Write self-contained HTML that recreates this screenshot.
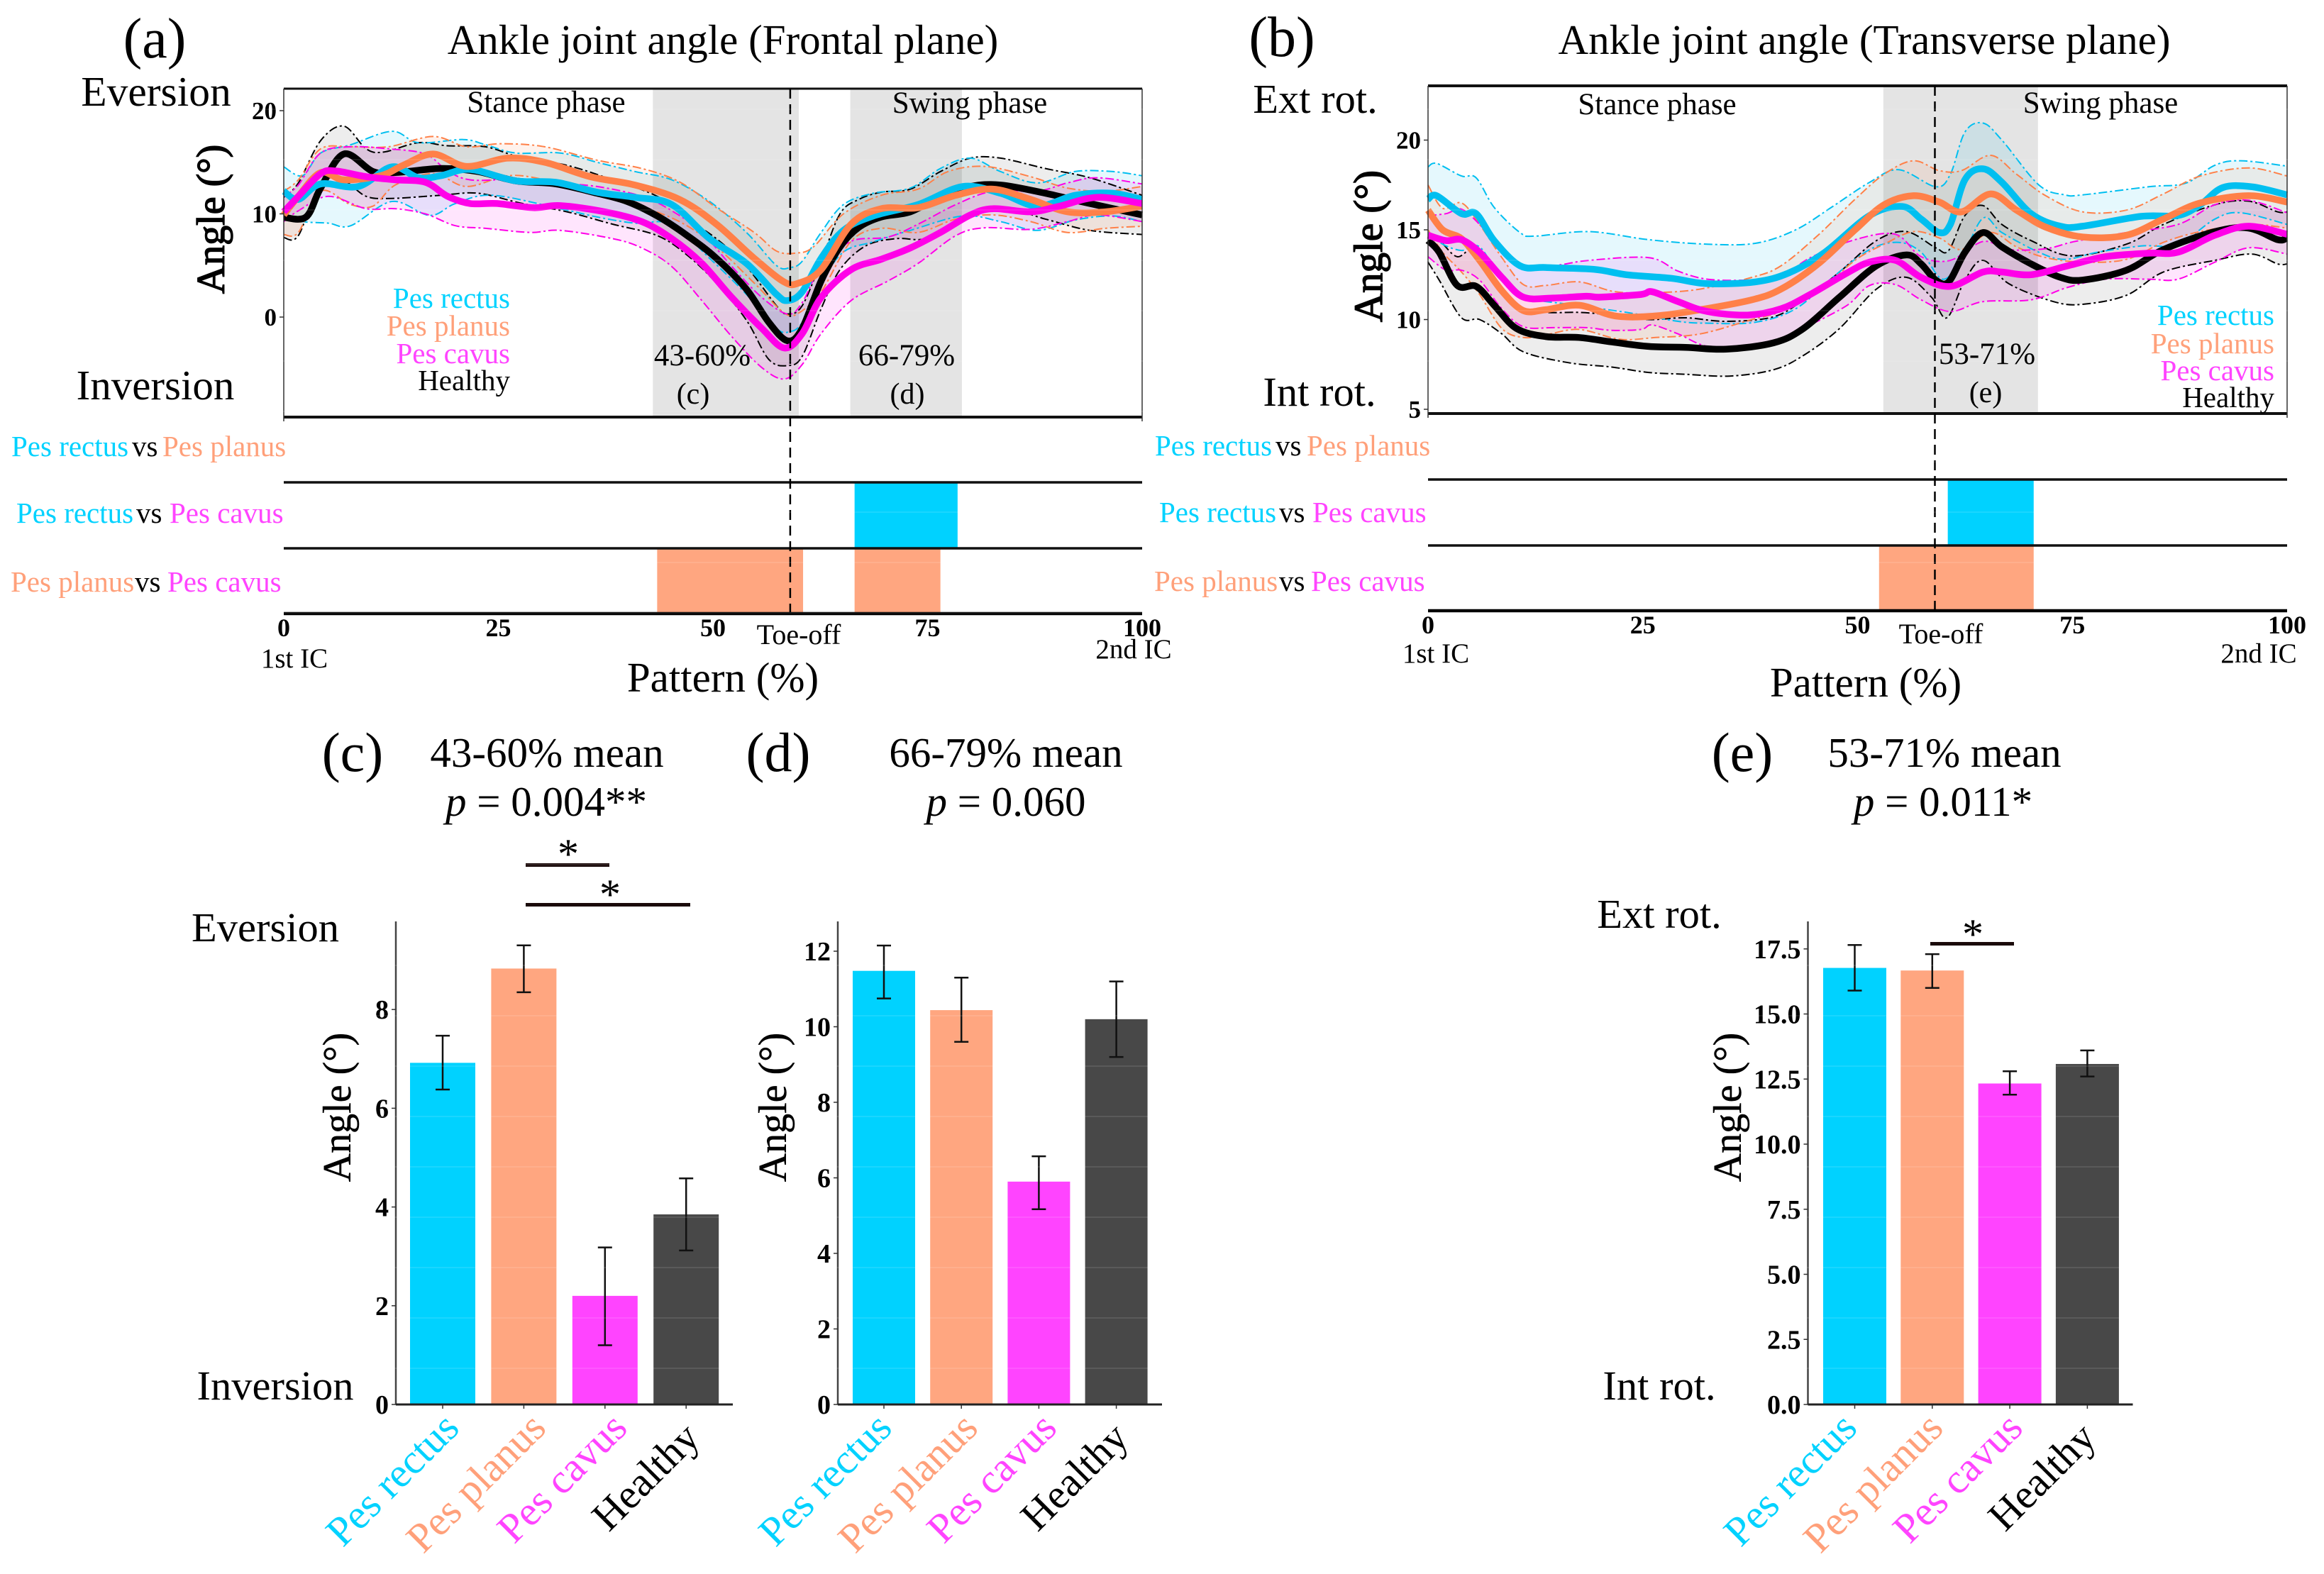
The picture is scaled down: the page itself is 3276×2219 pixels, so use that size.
<!DOCTYPE html>
<html lang="en">
<head>
<meta charset="utf-8">
<title>Ankle joint angle</title>
<style>
html,body{margin:0;padding:0;background:#fff}
svg{display:block}
text{font-family:"Liberation Serif",serif;fill:#000}
.b{font-weight:bold}
.r{fill:#00d2ff}.p{fill:#ffa07a}.c{fill:#ff44ff}
</style>
</head>
<body>
<svg id="fig" xmlns="http://www.w3.org/2000/svg" width="3276" height="2219" viewBox="0 0 3276 2219">
<rect width="3276" height="2219" fill="#fff"/>
<g id="layer"></g>

<!-- panel a text -->
<text x="218" y="81" font-size="80" text-anchor="middle">(a)</text>
<text x="1019" y="76" font-size="59" text-anchor="middle">Ankle joint angle (Frontal plane)</text>
<text x="220" y="149" font-size="59.5" text-anchor="middle">Eversion</text>
<text x="219" y="563" font-size="59" text-anchor="middle">Inversion</text>
<text transform="translate(316,309) rotate(-90)" font-size="56" text-anchor="middle" stroke="#000" stroke-width="1.4">Angle (°)</text>
<text x="770" y="158" font-size="43" text-anchor="middle">Stance phase</text>
<text x="1367" y="159" font-size="43" text-anchor="middle">Swing phase</text>
<text class="r" x="719" y="434" font-size="41" text-anchor="end">Pes rectus</text>
<text class="p" x="719" y="473" font-size="41" text-anchor="end">Pes planus</text>
<text class="c" x="719" y="512" font-size="41" text-anchor="end">Pes cavus</text>
<text x="719" y="550" font-size="41" text-anchor="end">Healthy</text>
<text x="990" y="515" font-size="43" text-anchor="middle">43-60%</text>
<text x="977" y="569" font-size="42" text-anchor="middle">(c)</text>
<text x="1278" y="515" font-size="43" text-anchor="middle">66-79%</text>
<text x="1279" y="569" font-size="42" text-anchor="middle">(d)</text>

<text x="16" y="643" font-size="41"><tspan class="r">Pes rectus</tspan><tspan x="186">vs</tspan><tspan class="p" x="229">Pes planus</tspan></text>
<text x="23" y="737" font-size="41"><tspan class="r">Pes rectus</tspan><tspan x="192">vs</tspan><tspan class="c" x="239">Pes cavus</tspan></text>
<text x="15" y="834" font-size="41"><tspan class="p">Pes planus</tspan><tspan x="190">vs</tspan><tspan class="c" x="236">Pes cavus</tspan></text>
<text x="1126" y="908" font-size="40" text-anchor="middle">Toe-off</text>
<text x="415" y="941" font-size="39" text-anchor="middle">1st IC</text>
<text x="1598" y="928" font-size="39" text-anchor="middle">2nd IC</text>
<text x="1019" y="975" font-size="59" text-anchor="middle">Pattern (%)</text>

<!-- panel b text -->
<text x="1807" y="79" font-size="80" text-anchor="middle">(b)</text>
<text x="2628" y="76" font-size="59" text-anchor="middle">Ankle joint angle (Transverse plane)</text>
<text x="1854" y="159" font-size="58.5" text-anchor="middle">Ext rot.</text>
<text x="1860" y="572" font-size="58.5" text-anchor="middle">Int rot.</text>
<text transform="translate(1948,347) rotate(-90)" font-size="57" text-anchor="middle" stroke="#000" stroke-width="1.4">Angle (°)</text>
<text x="2336" y="161" font-size="43" text-anchor="middle">Stance phase</text>
<text x="2961" y="159" font-size="43" text-anchor="middle">Swing phase</text>
<text class="r" x="3206" y="458" font-size="41" text-anchor="end">Pes rectus</text>
<text class="p" x="3206" y="498" font-size="41" text-anchor="end">Pes planus</text>
<text class="c" x="3206" y="536" font-size="41" text-anchor="end">Pes cavus</text>
<text x="3206" y="574" font-size="41" text-anchor="end">Healthy</text>
<text x="2801" y="513" font-size="43" text-anchor="middle">53-71%</text>
<text x="2799" y="567" font-size="42" text-anchor="middle">(e)</text>

<text x="1628" y="642" font-size="41"><tspan class="r">Pes rectus</tspan><tspan x="1798">vs</tspan><tspan class="p" x="1842">Pes planus</tspan></text>
<text x="1634" y="736" font-size="41"><tspan class="r">Pes rectus</tspan><tspan x="1803">vs</tspan><tspan class="c" x="1850">Pes cavus</tspan></text>
<text x="1627" y="833" font-size="41"><tspan class="p">Pes planus</tspan><tspan x="1803">vs</tspan><tspan class="c" x="1848">Pes cavus</tspan></text>
<text x="2736" y="907" font-size="40" text-anchor="middle">Toe-off</text>
<text x="2024" y="934" font-size="39" text-anchor="middle">1st IC</text>
<text x="3184" y="934" font-size="39" text-anchor="middle">2nd IC</text>
<text x="2630" y="982" font-size="59" text-anchor="middle">Pattern (%)</text>

<!-- panel c text -->
<text x="497" y="1087" font-size="78" text-anchor="middle">(c)</text>
<text x="771" y="1081" font-size="59" text-anchor="middle">43-60% mean</text>
<text x="770" y="1150" font-size="59" text-anchor="middle"><tspan font-style="italic">p</tspan> = 0.004**</text>
<text x="801" y="1224" font-size="60" text-anchor="middle">*</text>
<text x="860" y="1281" font-size="60" text-anchor="middle">*</text>
<text x="374" y="1327" font-size="58.5" text-anchor="middle">Eversion</text>
<text x="388" y="1973" font-size="58.5" text-anchor="middle">Inversion</text>
<text transform="translate(494,1561) rotate(-90)" font-size="56" text-anchor="middle" stroke="#000" stroke-width="0.5">Angle (°)</text>

<!-- panel d text -->
<text x="1097" y="1087" font-size="78" text-anchor="middle">(d)</text>
<text x="1418" y="1081" font-size="59" text-anchor="middle">66-79% mean</text>
<text x="1418" y="1150" font-size="59" text-anchor="middle"><tspan font-style="italic">p</tspan> = 0.060</text>
<text transform="translate(1108,1561) rotate(-90)" font-size="56" text-anchor="middle" stroke="#000" stroke-width="0.5">Angle (°)</text>

<!-- panel e text -->
<text x="2456" y="1087" font-size="78" text-anchor="middle">(e)</text>
<text x="2741" y="1081" font-size="59" text-anchor="middle">53-71% mean</text>
<text x="2739" y="1150" font-size="59" text-anchor="middle"><tspan font-style="italic">p</tspan> = 0.011*</text>
<text x="2781" y="1337" font-size="60" text-anchor="middle">*</text>
<text x="2339" y="1308" font-size="58.5" text-anchor="middle">Ext rot.</text>
<text x="2339" y="1973" font-size="58.5" text-anchor="middle">Int rot.</text>
<text transform="translate(2454,1561) rotate(-90)" font-size="56" text-anchor="middle" stroke="#000" stroke-width="0.5">Angle (°)</text>
</svg>

<script>
/* ---------- data: curves, [gait cycle %, angle °] ---------- */
const aRectusMean=[[0,12.2],[1.7,11.4],[4.3,12.9],[8.7,12.65],[12.6,14.56],[15.7,13.5],[18.3,13.7],[21.7,14.3],[27,13.2],[31.7,13.06],[36.5,12.1],[40.9,11.6],[45.2,10.9],[49.6,7.6],[53.9,5.2],[57.4,2.2],[58.7,1.6],[60.4,2.45],[62.6,5.7],[65.2,8.4],[68.7,9.8],[73.9,10.9],[79.1,12.65],[83.5,12],[87.8,10.75],[92.2,11.8],[96.5,12],[100,11.4]];
const aRectusUpper=[[0,14.56],[2.2,13.7],[4.3,15.9],[7.8,16.7],[12.6,18],[15.7,16.9],[20.9,17.2],[23.5,16.7],[27,15.9],[32.2,15.9],[36.5,15],[40.9,14.1],[45.2,13.3],[49.6,11.2],[53.9,8.2],[57.4,5],[59,4.8],[60.4,5.4],[62.6,8.2],[65.2,10.9],[68.7,12],[73,12.5],[76.5,14.4],[80,15.4],[83.5,14.1],[87.8,13],[92.2,14.1],[96.5,14.1],[100,13.7]];
const aRectusLower=[[0,9.8],[2.2,9.25],[5.2,9.1],[7.8,8.85],[12.6,11.2],[17,9.85],[20,11],[24.3,11.8],[32.2,10.5],[36.5,9.7],[40.9,9.1],[45.2,9],[49.6,5.7],[53.9,2.2],[57.4,-1.1],[59,-1.4],[60.4,-0.5],[62.6,3.3],[65.2,6.3],[68.7,7.3],[73,8.4],[79.1,9.8],[83.5,9.25],[87.8,8.4],[92.2,9.4],[96.5,9.8],[100,9.25]];
const aPlanusMean=[[0,9.9],[1.7,11.7],[4.3,14],[7,13.3],[11.3,13.7],[13.9,14.7],[17.4,15.8],[21.3,14.6],[26.1,15.4],[30.4,15],[35.7,13.6],[40.9,12.8],[46.1,11.4],[50.4,9],[54.8,5.7],[58.3,3.4],[60,3.3],[62.6,4.6],[66.1,9],[69.6,10.5],[73.9,10.6],[78.3,11.8],[82.6,12.4],[87,11.4],[91.3,10.2],[95.7,10.2],[100,10.75]];
const aPlanusUpper=[[0,12.2],[1.7,13.3],[4.3,16.3],[7.8,16.5],[12.2,16.5],[17.4,17.5],[21.3,16.5],[25.2,16.8],[30.4,16.5],[36.5,15.2],[41.7,14.4],[46.1,13.1],[50.4,10.6],[54.8,8.2],[57.4,6.4],[59.6,6.2],[61.7,6.8],[65.2,10],[69.6,11.8],[73.9,12.4],[77.4,14.1],[81.7,14.6],[87,13.6],[91.3,12.5],[95.7,12.2],[100,12.65]];
const aPlanusLower=[[0,8],[1.7,8.2],[4.3,12.2],[7.8,10.9],[10.4,10.75],[13,12.8],[17.4,13.9],[21.3,12.65],[26.1,13.7],[30.4,13.3],[35.7,12],[40.9,10.9],[46.1,9.25],[50.4,6.8],[54.8,3.3],[58.3,0.4],[60,0.4],[62.6,2.45],[66.1,7.35],[69.6,8.6],[73.9,8.2],[78.3,9.5],[82.6,9.9],[87,9.25],[91.3,8.2],[95.7,8.6],[100,8.8]];
const aCavusMean=[[0,10.2],[1.7,11.7],[4.3,13.9],[6.1,14.15],[9.6,13.6],[13,13.3],[16.5,13.06],[19.1,11.7],[21.7,11],[24.8,11],[29.1,10.6],[32.2,10.8],[37.4,10.2],[41.7,9.25],[45.2,7.6],[48.7,5.2],[52.2,1.9],[55.7,-1.1],[58.3,-3],[60.4,-1.6],[62.6,1.9],[66.1,4.6],[69.6,5.6],[73,6.7],[76.5,8.2],[80,9.9],[82.6,10.5],[87,10.2],[90.4,10.75],[94.8,11.6],[100,11]];
const aCavusUpper=[[0,11.7],[1.7,12.8],[4.3,15.9],[7.8,16.5],[12.2,16.3],[16.5,15.8],[19.1,14.15],[21.7,13.3],[26.1,13.3],[31.3,13],[36.5,12.65],[41.7,11.7],[45.2,10.3],[48.7,8.2],[52.2,4.9],[55.7,1.9],[58.7,0.3],[60.4,1.4],[62.6,4.9],[66.1,7.35],[70.4,7.75],[73.9,9],[78.3,10.9],[82.6,12.2],[87.8,12.2],[91.3,13],[94.8,13.5],[100,12.9]];
const aCavusLower=[[0,9.25],[1.7,10.3],[5.2,11.7],[9.6,10.5],[13,10.5],[16.5,10],[20,8.85],[23.5,8.6],[28.7,8.2],[32.2,8.4],[38.3,7.6],[41.7,6.7],[45.2,4.9],[48.7,1.6],[52.2,-1.9],[55.7,-4.9],[58.3,-6],[60.4,-4.6],[62.6,-1.6],[66.1,1.6],[70.4,3.5],[73.9,5.2],[78.3,7.9],[81.7,8.65],[87,8.5],[91.3,9.25],[94.8,9.9],[100,9.25]];
const aHealthyMean=[[0,9.66],[2.6,9.7],[4.3,12.5],[7,15.8],[10.4,14.1],[13,14],[18.3,14.4],[22.6,14.1],[27,13.2],[31.7,12.9],[36.5,12],[40,11.2],[43.5,9.8],[47,7.9],[50.4,5.7],[53.9,2.7],[56.5,-0.5],[58.7,-2.3],[60.4,-1.1],[62.6,3.5],[64.8,6.8],[67,8.7],[69.6,9.7],[73,10.2],[76.5,11.7],[80,12.65],[83.5,12.8],[88.7,12],[93.9,11],[100,9.9]];
const aHealthyUpper=[[0,11.6],[1.7,13],[4.3,17.1],[7,18.5],[9.6,16.3],[11.7,16],[15.7,16.9],[19.1,16.6],[23.5,16.5],[27.8,15.4],[33,14.7],[38.3,13.3],[43.5,11.7],[47,9.5],[50.4,7.6],[53.9,4.9],[57.4,1.1],[58.7,0.3],[60.4,1.1],[62.6,5.4],[64.8,10],[67,11.4],[69.6,12.1],[73,12.4],[76.5,14.1],[80,15.4],[83.5,15.4],[88.7,14.4],[93.9,13.5],[100,11.8]];
const aHealthyLower=[[0,7.7],[1.7,7.9],[4.3,13],[7,13.2],[9.6,11.7],[12.6,11.5],[18.3,11.8],[22.6,12],[27.8,11],[33,10.2],[38.3,9],[43.5,7.9],[47,6],[50.4,3.3],[53.9,-0.3],[56.5,-4.1],[58.7,-4.7],[60.4,-3.8],[62.6,0.8],[64.8,4.6],[67.8,6.9],[71.3,7.6],[74.8,7.6],[78.3,9.25],[83.5,10.6],[88.7,9.5],[93.9,8.4],[100,8]];

const bRectusMean=[[0,16.7],[1,16.9],[3.9,15.9],[5.6,15.9],[7.7,14.4],[10.7,13],[13.7,12.9],[19.3,12.8],[23.1,12.5],[28.3,12.3],[32.5,12],[38.1,12.1],[42,12.6],[46.2,13.75],[51.4,15.8],[55.2,16.3],[57.4,15.6],[59.5,14.85],[60.8,15.3],[62.5,17.8],[64.6,18.4],[66.8,17.65],[70.2,15.9],[73.6,15.2],[76.2,15.2],[83,15.75],[87.3,15.8],[89.9,16.4],[92.5,17.35],[95.9,17.4],[100,16.95]];
const bRectusUpper=[[0,18.5],[1,18.7],[3.9,18],[5.6,17.9],[7.7,16.25],[10.7,14.85],[12.4,14.65],[18.8,14.9],[25.7,14.45],[32.5,14.2],[38.1,14.25],[42.8,15],[47.1,16.3],[51.4,17.65],[54.8,18.35],[59.1,17.4],[60.8,18.1],[62.5,20.45],[64.6,20.95],[66.8,20],[71.1,17.5],[74.1,16.95],[76.2,16.95],[83.9,17.4],[88.2,17.6],[91.6,18.6],[94.6,18.85],[100,18.55]];
const bRectusLower=[[0,14.85],[1.7,14.2],[3.9,13.85],[6,14.05],[8.6,12.2],[11.1,11.25],[16.3,10.85],[23.1,10.4],[29.1,9.9],[32.5,9.8],[38.1,9.85],[42.8,10.6],[47.1,12.35],[51.4,13.9],[54.8,14.3],[57.4,13.75],[59.9,12.25],[62.1,13.4],[64.6,15.65],[66.8,14.85],[71.1,13.75],[74.1,13.35],[77.9,13.75],[83,14.1],[87.3,14.2],[91.6,15.6],[94.6,15.95],[100,15.3]];
const bPlanusMean=[[0,16.1],[1.7,15],[3.9,14.5],[6,13.3],[8.6,11.6],[11.1,10.5],[13.7,10.55],[17.6,10.8],[21.8,10.2],[26.5,10.2],[31.7,10.55],[37.7,11.1],[41.1,11.7],[45.4,13.1],[49.7,15],[53.1,16.4],[56.5,16.9],[59.5,16.55],[62.1,16],[65.5,17],[68.5,16.1],[71.9,15.15],[76.2,14.6],[81.3,14.7],[85.6,15.6],[89.9,16.5],[95.5,16.9],[100,16.55]];
const bPlanusUpper=[[0,17.5],[1.7,16.2],[3.9,16.5],[6,15.3],[8.6,13.45],[11.1,11.95],[13.7,11.9],[17.6,12.1],[21.8,11.55],[26.5,11.5],[31.7,11.7],[37.7,12.35],[41.1,13],[45.4,14.7],[49.7,16.7],[53.1,18.1],[56.5,18.85],[59.5,18.3],[62.1,18.3],[65.5,19.15],[68.5,18.1],[71.9,16.9],[76.2,16],[81.3,16.1],[85.6,17],[89.9,18],[95.5,18.45],[100,18]];
const bPlanusLower=[[0,15],[1.7,13.75],[3.9,12.65],[6,11.4],[8.6,9.5],[11.1,9],[13.7,9.15],[17.6,9.45],[22.3,8.9],[26.5,9],[31.7,9.2],[37.7,10],[41.1,10.45],[45.4,11.55],[49.7,13.3],[53.1,14.2],[56.5,14.9],[59.5,14.55],[62.1,13.9],[65.5,14.85],[68.5,14.05],[71.9,13.45],[76.2,13.2],[81.3,13.35],[85.6,14.3],[89.9,14.9],[95.5,15.3],[100,15.1]];
const bCavusMean=[[0,14.7],[2.1,14.4],[3.9,14.45],[6,13.75],[8.6,12.35],[11.1,11.25],[14.6,11.2],[18.4,11.3],[20.1,11.25],[24.8,11.4],[26.1,11.55],[29.1,11],[32.5,10.45],[37.2,10.25],[41.1,10.6],[44.5,11.4],[48.8,12.6],[51.4,13.2],[54.4,13.3],[57.4,12.35],[60.8,11.85],[64.6,12.65],[66.8,12.65],[70.2,12.5],[74.5,13],[78.8,13.5],[83.9,13.7],[87.3,13.75],[91.6,14.7],[95.5,15.2],[100,14.75]];
const bCavusUpper=[[0,15.8],[2.1,15.9],[3.9,16.15],[6,15.3],[8.6,13.9],[11.1,12.8],[15.4,13.05],[18.8,13.3],[25.7,13.45],[29.1,12.7],[32.5,12.25],[37.2,12.2],[41.1,12.4],[44.5,13.45],[49.7,14.45],[54.4,14.75],[57.4,13.5],[60.8,13.3],[64.6,14.35],[67.6,13.9],[71.9,13.95],[75.3,14.35],[81.3,14.85],[87.3,15.3],[91.6,16.4],[95.5,16.65],[100,15.95]];
const bCavusLower=[[0,13.5],[2.1,12.75],[3.9,12.75],[6,12.2],[8.6,10.6],[11.1,9.6],[14.6,9.55],[18.4,9.55],[21.4,9.4],[24.8,9.45],[26.1,9.7],[29.1,9.2],[32.5,8.5],[37.2,8.35],[41.1,8.9],[44.5,9.7],[48.8,10.8],[51.4,11.9],[54.4,11.95],[57.4,11.1],[60.8,10.45],[64.6,11],[70.2,11.1],[74.5,11.8],[78.8,12.25],[83.9,12.25],[87.3,12.25],[91.6,13.2],[95.5,14],[100,13.65]];
const bHealthyMean=[[0,14.4],[1.3,13.75],[3.4,11.9],[5.6,11.85],[7.7,10.8],[10.3,9.5],[13.7,9.05],[17.6,9],[21.4,8.75],[25.7,8.5],[30,8.45],[34.7,8.35],[40.2,8.7],[43.7,9.5],[47.9,11.25],[52.2,13],[55.7,13.6],[57.4,13.1],[59.1,12.2],[60.6,12.1],[62.5,13.75],[64.6,14.85],[66.8,14.05],[70.2,13.1],[73.6,12.35],[76.2,12.2],[81.3,12.75],[85.6,13.9],[91.6,14.9],[95.5,15.1],[98.9,14.45],[100,14.55]];
const bHealthyUpper=[[0,14.4],[1.3,14.4],[3.4,13.5],[5.6,14],[7.7,12.2],[10.3,10.7],[13.7,10.4],[17.6,10.4],[21.4,10.25],[25.7,10],[30,10.1],[34.7,9.9],[40.2,10.15],[43.7,11.1],[47.9,12.65],[52.2,14.4],[55.7,14.9],[59.1,14],[60.6,13.85],[62.5,15.8],[64.6,16.35],[66.8,15.3],[70.2,14.4],[74.9,13.55],[81.3,14.2],[85.6,15.3],[91.6,16.4],[95.5,16.6],[98.9,16],[100,16]];
const bHealthyLower=[[0,13.2],[1.3,12.2],[3.9,10.1],[6,10],[8.6,9.2],[11.1,8.2],[16.3,7.6],[21.4,7.35],[25.7,7.05],[30,6.95],[35.1,6.85],[40.2,7.2],[43.7,8],[47.9,9.5],[52.2,11.7],[55.7,12.35],[58.6,11.25],[60.4,10.1],[62.5,12.2],[64.6,13.3],[67.6,12],[72.8,11],[76.2,10.85],[81.3,11.35],[85.6,12.65],[91.6,13.3],[95.9,13.65],[98.9,13.1],[100,13.1]];

/* ---------- data: phases, significance ranges (%) ---------- */
const aShaded=[[43,60],[66,79]];
const bShaded=[[53,71]];
const toeOffPct=59;
const aSigRectusCavus=[[66.5,78.5]];
const aSigPlanusCavus=[[43.5,60.5],[66.5,76.5]];
const bSigRectusCavus=[[60.5,70.5]];
const bSigPlanusCavus=[[52.5,70.5]];
const patternTicks=[0,25,50,75,100];
const aAngleTicks=[0,10,20];
const bAngleTicks=[5,10,15,20];

/* ---------- data: bar charts ---------- */
const barCategories=['Pes rectus','Pes planus','Pes cavus','Healthy'];
const cMeans=[6.92,8.83,2.2,3.85];
const cLows=[6.38,8.35,1.2,3.12];
const cHighs=[7.47,9.3,3.18,4.58];
const cTicks=[0,2,4,6,8];
const dMeans=[11.48,10.44,5.9,10.2];
const dLows=[10.75,9.6,5.17,9.2];
const dHighs=[12.15,11.3,6.57,11.2];
const dTicks=[0,2,4,6,8,10,12];
const eMeans=[16.77,16.67,12.33,13.08];
const eLows=[15.9,16,11.9,12.6];
const eHighs=[17.65,17.3,12.8,13.6];
const eTicks=[0,2.5,5,7.5,10,12.5,15,17.5];

/* ---------- drawing ---------- */
const NS='http://www.w3.org/2000/svg';
const layer=document.getElementById('layer');
const COL={rectus:'#00bff0',planus:'#ff8048',cavus:'#ff00e8',healthy:'#000000'};
const BAR={rectus:'#00d2ff',planus:'#ffa680',cavus:'#ff44ff',healthy:'#484848'};
const LAB=['#00d2ff','#ffa07a','#ff44ff','#000000'];

function mk(tag,name,interact,attrs,parent){
  const el=document.createElementNS(NS,tag);
  
  
  for(const k in attrs) el.setAttribute(k,attrs[k]);
  (parent||layer).appendChild(el);
  return el;
}
function line(name,x1,y1,x2,y2,stroke,w,dash){
  const a={x1:x1,y1:y1,x2:x2,y2:y2,stroke:stroke,'stroke-width':w};
  if(dash) a['stroke-dasharray']=dash;
  return mk('line',name,'false',a);
}
function label(name,x,y,size,anchor,str,bold){
  const el=mk('text',name,'false',{x:x,y:y,'font-size':size,'text-anchor':anchor});
  if(bold) el.setAttribute('class','b');
  el.textContent=str;
  return el;
}
/* Catmull-Rom through screen points */
function smooth(pts){
  let d='M'+pts[0][0].toFixed(1)+' '+pts[0][1].toFixed(1);
  for(let i=0;i<pts.length-1;i++){
    const p0=pts[Math.max(i-1,0)],p1=pts[i],p2=pts[i+1],p3=pts[Math.min(i+2,pts.length-1)];
    const c1x=p1[0]+(p2[0]-p0[0])/6,c1y=p1[1]+(p2[1]-p0[1])/6;
    const c2x=p2[0]-(p3[0]-p1[0])/6,c2y=p2[1]-(p3[1]-p1[1])/6;
    d+='C'+c1x.toFixed(1)+' '+c1y.toFixed(1)+' '+c2x.toFixed(1)+' '+c2y.toFixed(1)+' '+p2[0].toFixed(1)+' '+p2[1].toFixed(1);
  }
  return d;
}
function drawPanel(P){
  const X=v=>P.x0+(P.x1-P.x0)*v/100;
  const Y=v=>P.yBase-(v-P.vBase)*P.yPer;
  /* shaded */
  P.shaded.forEach(function(s,i){
    mk('rect',P.id+'-shaded-range-'+i,'false',{x:X(s[0]),y:P.top,width:X(s[1])-X(s[0]),height:P.bottom-P.top,fill:'#e4e4e4'});
  });
  /* bands */
  P.series.forEach(function(s){
    const up=s.upper.map(p=>[X(p[0]),Y(p[1])]);
    const lo=s.lower.map(p=>[X(p[0]),Y(p[1])]).reverse();
    const loD=smooth(lo).replace(/^M/,'L');
    mk('path',P.id+'-'+s.key+'-sd-band','false',{d:smooth(up)+loD+'Z',fill:COL[s.key],'fill-opacity':s.key==='healthy'?0.07:0.1,stroke:'none'});
  });
  P.series.forEach(function(s){
    mk('path',P.id+'-'+s.key+'-upper-line','false',{d:smooth(s.upper.map(p=>[X(p[0]),Y(p[1])])),fill:'none',stroke:COL[s.key],'stroke-width':2,'stroke-dasharray':'12 4 3 4'});
    mk('path',P.id+'-'+s.key+'-lower-line','false',{d:smooth(s.lower.map(p=>[X(p[0]),Y(p[1])])),fill:'none',stroke:COL[s.key],'stroke-width':2,'stroke-dasharray':'12 4 3 4'});
  });
  P.series.forEach(function(s){
    mk('path',P.id+'-'+s.key+'-mean-line','false',{d:smooth(s.mean.map(p=>[X(p[0]),Y(p[1])])),fill:'none',stroke:COL[s.key],'stroke-width':9.5,'stroke-linejoin':'round'});
  });
  /* significance rows */
  P.sigA.forEach(function(s,i){
    mk('rect',P.id+'-sig-rectus-cavus-'+i,'false',{x:X(s[0]),y:P.rows[1],width:X(s[1])-X(s[0]),height:P.rows[2]-P.rows[1],fill:'#00d2ff'});
  });
  P.sigB.forEach(function(s,i){
    mk('rect',P.id+'-sig-planus-cavus-'+i,'false',{x:X(s[0]),y:P.rows[2],width:X(s[1])-X(s[0]),height:P.rows[3]-P.rows[2],fill:'#ffa680'});
  });
  /* frame */
  line(P.id+'-frame-top',P.x0,P.top,P.x1,P.top,'#111',P.thickTop);
  line(P.id+'-frame-bottom',P.x0,P.bottom,P.x1,P.bottom,'#111',4);
  line(P.id+'-frame-left',P.x0,P.top,P.x0,P.bottom+6,'#333',1.5);
  line(P.id+'-frame-right',P.x1,P.top,P.x1,P.bottom+6,'#333',1.5);
  line(P.id+'-row-line-1',P.x0,P.rows[1],P.x1,P.rows[1],'#111',3.5);
  line(P.id+'-row-line-2',P.x0,P.rows[2],P.x1,P.rows[2],'#111',3.5);
  line(P.id+'-x-axis',P.x0,P.rows[3],P.x1,P.rows[3],'#000',4.5);
  line(P.id+'-toe-off-line',X(toeOffPct),P.top,X(toeOffPct),P.rows[3],'#000',2.5,'14 8');
  /* ticks */
  P.yTicks.forEach(function(v){
    line(P.id+'-y-tick-'+v,P.x0-6,Y(v),P.x0,Y(v),'#333',1.5);
    label(P.id+'-y-tick-label-'+v,P.x0-10,Y(v)+12,35,'end',String(v),true);
  });
  patternTicks.forEach(function(v){
    label(P.id+'-x-tick-label-'+v,X(v),P.xTickY,36,'middle',String(v),true);
  });
}
drawPanel({id:'panel-a',x0:400,x1:1610,top:125,bottom:588,thickTop:3,yBase:447,vBase:0,yPer:14.55,
  rows:[588,680,773,865],xTickY:897,shaded:aShaded,sigA:aSigRectusCavus,sigB:aSigPlanusCavus,yTicks:aAngleTicks,
  series:[
   {key:'healthy',mean:aHealthyMean,upper:aHealthyUpper,lower:aHealthyLower},
   {key:'rectus',mean:aRectusMean,upper:aRectusUpper,lower:aRectusLower},
   {key:'planus',mean:aPlanusMean,upper:aPlanusUpper,lower:aPlanusLower},
   {key:'cavus',mean:aCavusMean,upper:aCavusUpper,lower:aCavusLower}]});
drawPanel({id:'panel-b',x0:2013,x1:3224,top:121,bottom:583,thickTop:4,yBase:577,vBase:5,yPer:25.3,
  rows:[583,676,769,861],xTickY:893,shaded:bShaded,sigA:bSigRectusCavus,sigB:bSigPlanusCavus,yTicks:bAngleTicks,
  series:[
   {key:'healthy',mean:bHealthyMean,upper:bHealthyUpper,lower:bHealthyLower},
   {key:'rectus',mean:bRectusMean,upper:bRectusUpper,lower:bRectusLower},
   {key:'planus',mean:bPlanusMean,upper:bPlanusUpper,lower:bPlanusLower},
   {key:'cavus',mean:bCavusMean,upper:bCavusUpper,lower:bCavusLower}]});

function drawBars(C){
  const Y=v=>C.y0-v*C.per;
  const BX=i=>C.first+i*C.step;
  const keys=['rectus','planus','cavus','healthy'];
  C.means.forEach(function(v,i){
    const cx=BX(i);
    mk('rect',C.id+'-bar-'+keys[i],'false',{x:cx-C.w/2,y:Y(v),width:C.w,height:C.y0-Y(v),fill:BAR[keys[i]]});
    line(C.id+'-x-tick-'+keys[i],cx,C.y0,cx,C.y0+6,'#333',1.5);
    line(C.id+'-error-'+keys[i],cx,Y(C.lows[i]),cx,Y(C.highs[i]),'#111',2.5);
    line(C.id+'-error-cap-high-'+keys[i],cx-C.cap,Y(C.highs[i]),cx+C.cap,Y(C.highs[i]),'#111',2.5);
    line(C.id+'-error-cap-low-'+keys[i],cx-C.cap,Y(C.lows[i]),cx+C.cap,Y(C.lows[i]),'#111',2.5);
    const t=mk('text',C.id+'-category-'+keys[i],'false',{'font-size':58.5,'text-anchor':'end',transform:'translate('+(cx+C.lx+C.nudge[i])+','+(C.y0+C.ly+(i===3?14:0))+') rotate(-45)'});
    t.setAttribute('style','fill:'+LAB[i]);
    t.textContent=barCategories[i];
  });
  line(C.id+'-y-axis',C.left,C.top,C.left,C.y0,'#444',2.5);
  line(C.id+'-x-axis',C.left,C.y0,C.right,C.y0,'#222',3);
  C.ticks.forEach(function(v){
    line(C.id+'-y-tick-'+v,C.left-6,Y(v),C.left,Y(v),'#333',1.5);
    label(C.id+'-y-tick-label-'+v,C.left-10,Y(v)+13,38,'end',String(C.fixed?v.toFixed(1):v),true);
  });
}
drawBars({id:'panel-c',y0:1980,per:69.6,first:624,step:114.4,w:92,cap:10,left:558,right:1033,top:1299,means:cMeans,lows:cLows,highs:cHighs,ticks:cTicks,lx:26,ly:36,nudge:[0,8,8,-4]});
drawBars({id:'panel-d',y0:1980,per:53.25,first:1246,step:109.2,w:88,cap:10,left:1181,right:1638,top:1299,means:dMeans,lows:dLows,highs:dHighs,ticks:dTicks,lx:22,ly:36,nudge:[-8,4,6,-2]});
drawBars({id:'panel-e',y0:1980,per:36.7,first:2614.5,step:109.3,w:89,cap:10,left:2548.5,right:3006.5,top:1299,means:eMeans,lows:eLows,highs:eHighs,ticks:eTicks,lx:15,ly:36,nudge:[-9,3,6,0],fixed:true});

/* significance bars */
mk('rect','sig-bar-c-planus-cavus','false',{x:741,y:1217,width:118,height:5,fill:'#1a0a0a'});
mk('rect','sig-bar-c-planus-healthy','false',{x:741,y:1273,width:232,height:5,fill:'#1a0a0a'});
mk('rect','sig-bar-e-planus-cavus','false',{x:2721,y:1328,width:118,height:5,fill:'#1a0a0a'});

/* faint horizontal banding visible across filled areas of the source image */
for(let yy=11;yy<2219;yy+=71){
  const band=document.createElementNS(NS,'rect');
  
  
  band.setAttribute('x',0);
  band.setAttribute('y',yy);
  band.setAttribute('width',3276);
  band.setAttribute('height',2);
  band.setAttribute('fill','#fff');
  band.setAttribute('fill-opacity',0.1);
  layer.appendChild(band);
}
</script>
</body>
</html>
